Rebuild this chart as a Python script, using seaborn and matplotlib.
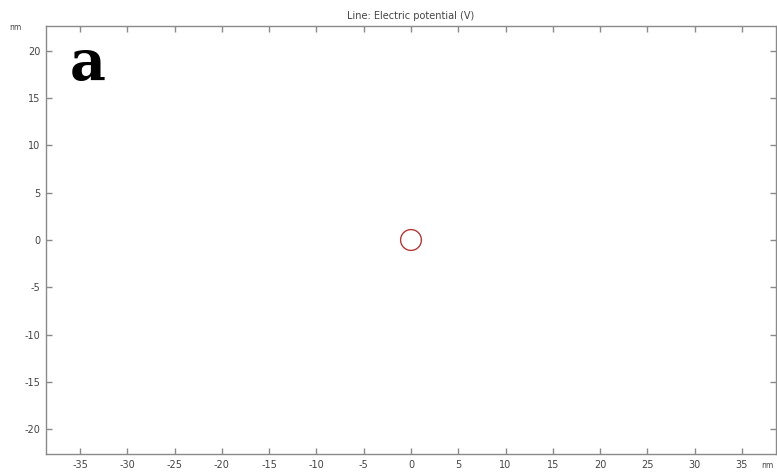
import numpy as np
import pandas as pd
import matplotlib
matplotlib.use("Agg")
import matplotlib.pyplot as plt
import seaborn as sns

# Geometry: a single circular boundary (nm)
circle_center = [0.0, 0.0]
circle_radius = [1.1]
x_ticks = [-35, -30, -25, -20, -15, -10, -5, 0, 5, 10, 15, 20, 25, 30, 35]
y_ticks = [-20, -15, -10, -5, 0, 5, 10, 15, 20]
x_limits = [-38.6, 38.6]
y_limits = [-22.6, 22.6]

sns.set_theme(style="white")
plt.rcParams['font.family'] = ['DejaVu Sans']
plt.rcParams['axes.unicode_minus'] = False

fig = plt.figure(figsize=(7.77, 4.75), dpi=100)
ax = fig.add_axes([46 / 777, 21 / 475, 730 / 777, 428 / 475])

theta = np.linspace(0, 2 * np.pi, 361)
ring = pd.DataFrame({
    "x": circle_center[0] + circle_radius[0] * np.cos(theta),
    "y": circle_center[1] + circle_radius[0] * np.sin(theta),
})
sns.lineplot(data=ring, x="x", y="y", sort=False, estimator=None,
             color="#b23a3a", linewidth=1.0, ax=ax)

ax.set_xlim(x_limits)
ax.set_ylim(y_limits)
ax.set_aspect("auto")
ax.set_xticks(x_ticks)
ax.set_yticks(y_ticks)
ax.set_xlabel("")
ax.set_ylabel("")

for s in ax.spines.values():
    s.set_color("#8a8a8a")
    s.set_linewidth(1.0)
ax.tick_params(axis="both", which="both", direction="in", length=4, width=1,
               color="#8a8a8a", labelsize=7, labelcolor="#444444",
               top=True, right=True, bottom=True, left=True, pad=4)

ax.set_title("Line: Electric potential (V)", fontsize=7, color="#444444", pad=5)

# unit labels
fig.text(15 / 777, 1 - 27 / 475, "nm", fontsize=5.5, color="#444444",
         ha="center", va="center")
fig.text(767 / 777, 1 - 465 / 475, "nm", fontsize=5.5, color="#444444",
         ha="center", va="center")

# panel letter
ax.text(0.033, 0.975, "a", transform=ax.transAxes, fontsize=40,
        fontweight="bold", family="DejaVu Serif", ha="left", va="top",
        color="black")

fig.savefig("out.png", dpi=100)
